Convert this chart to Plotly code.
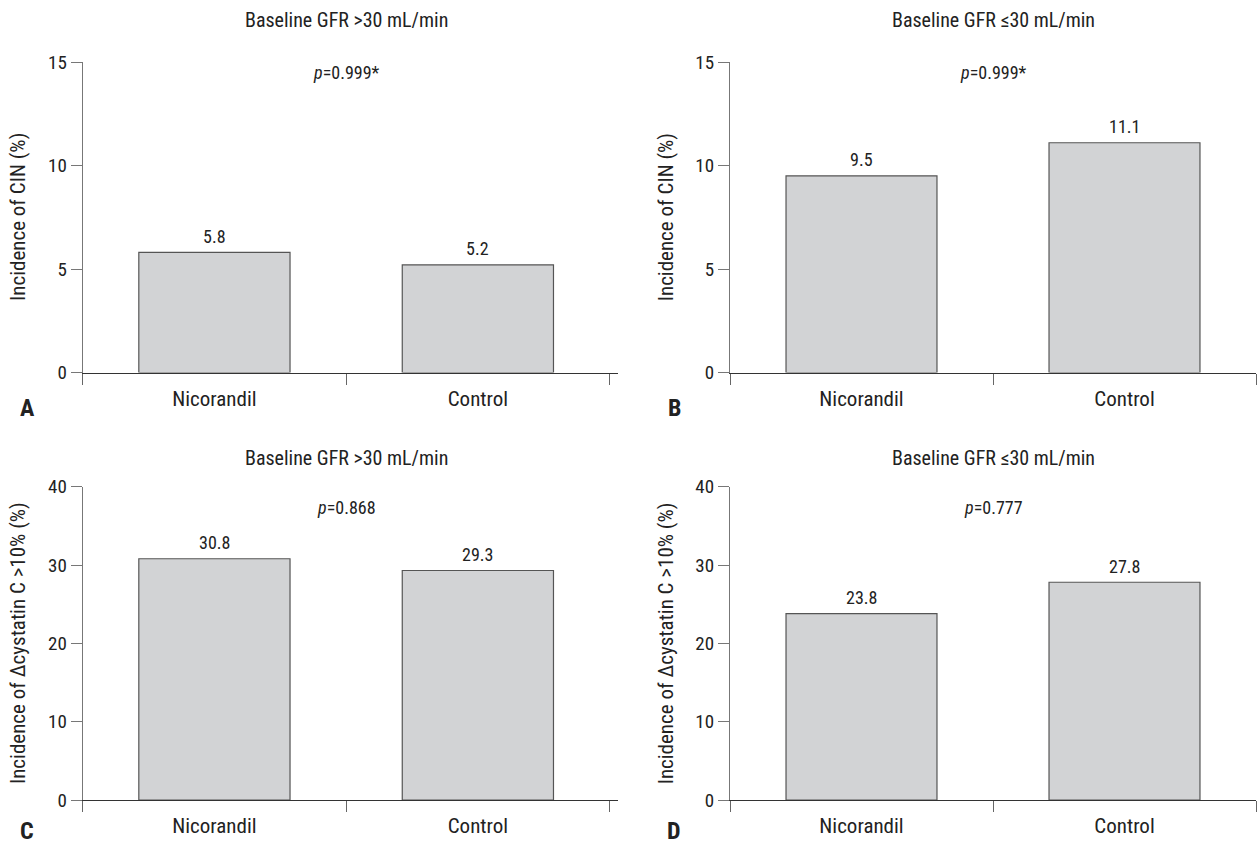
import plotly.graph_objects as go

categories = ["Nicorandil", "Control"]
panel_letters = ["A", "B", "C", "D"]
panel_titles = ["Baseline GFR >30 mL/min", "Baseline GFR ≤30 mL/min",
                "Baseline GFR >30 mL/min", "Baseline GFR ≤30 mL/min"]
values_A = [5.8, 5.2]
values_B = [9.5, 11.1]
values_C = [30.8, 29.3]
values_D = [23.8, 27.8]
p_values = ["0.999*", "0.999*", "0.868", "0.777"]
y_titles = ["Incidence of CIN (%)", "Incidence of CIN (%)",
            "Incidence of Δcystatin C >10% (%)", "Incidence of Δcystatin C >10% (%)"]
y_max = [15, 15, 40, 40]
y_dtick = [5, 5, 10, 10]

series = [values_A, values_B, values_C, values_D]

FONT = "Roboto Condensed, Liberation Sans Narrow, Arial Narrow, Roboto, Arial, sans-serif"
W, H = 1260, 846
BAR = "#d2d3d5"
EDGE = "#555555"
TXT = "#222222"

# pixel geometry of the four plot areas (left, right, top, bottom)
boxes = [(82.7, 617.5, 62, 372.5), (730, 1256, 62, 372.5),
         (82.7, 617.5, 486.7, 800), (730, 1256, 486.7, 800)]
x_ranges = [[-0.5, 1.53], [-0.5, 1.5], [-0.5, 1.53], [-0.5, 1.5]]
title_y = [20, 20, 458, 458]
p_y = [14.5, 14.5, 37.3, 37.3]
letter_y = [408, 408, 831, 831]

fig = go.Figure()
annotations = []
for i in range(4):
    n = "" if i == 0 else str(i + 1)
    l, r, t, b = boxes[i]
    fig.add_trace(go.Bar(
        x=categories, y=series[i], width=0.574,
        marker=dict(color=BAR, line=dict(color=EDGE, width=1.2)),
        xaxis="x" + n, yaxis="y" + n, showlegend=False, hoverinfo="x+y"))
    fig.update_layout(**{
        "xaxis" + n: dict(
            domain=[l / W, r / W], anchor="y" + n, type="category",
            range=x_ranges[i], showline=True, linecolor="#333333", linewidth=1.2,
            ticks="outside", tickson="boundaries", ticklen=11, tickcolor="#666666",
            tickwidth=1.2, showgrid=False, zeroline=False, automargin=False,
            ticklabelstandoff=7,
            tickfont=dict(family=FONT, size=21, color=TXT)),
        "yaxis" + n: dict(
            domain=[1 - b / H, 1 - t / H], anchor="x" + n,
            range=[0, y_max[i]], dtick=y_dtick[i], showline=True,
            linecolor="#777777", linewidth=1.2, ticks="outside", ticklen=11,
            tickcolor="#777777", tickwidth=1.2, showgrid=False, zeroline=False,
            automargin=False,
            tickfont=dict(family=FONT, size=19, color=TXT)),
    })
    # panel title
    annotations.append(dict(
        text=panel_titles[i], xref="x" + n, x=0.5, yref="paper", y=1 - title_y[i] / H,
        showarrow=False, xanchor="center", yanchor="middle",
        font=dict(family=FONT, size=20, color=TXT)))
    # p value
    annotations.append(dict(
        text="<i>p</i>=" + p_values[i], xref="x" + n, x=0.5, yref="y" + n, y=p_y[i],
        showarrow=False, xanchor="center", yanchor="middle",
        font=dict(family=FONT, size=18, color=TXT)))
    # value labels
    for j, v in enumerate(series[i]):
        annotations.append(dict(
            text=f"{v:.1f}", xref="x" + n, x=categories[j], yref="y" + n, y=v,
            yshift=16, showarrow=False, xanchor="center", yanchor="middle",
            font=dict(family=FONT, size=18, color=TXT)))
    # y-axis title
    annotations.append(dict(
        text=y_titles[i], xref="paper", x=(l - 64) / W, yref="paper",
        y=1 - (t + b) / 2 / H, textangle=-90, showarrow=False,
        xanchor="center", yanchor="middle",
        font=dict(family=FONT, size=21, color=TXT)))
    # panel letter
    annotations.append(dict(
        text="<b>" + panel_letters[i] + "</b>", xref="paper", x=(l - 55.7) / W,
        yref="paper", y=1 - letter_y[i] / H, showarrow=False,
        xanchor="center", yanchor="middle",
        font=dict(family=FONT, size=24, color=TXT)))

fig.update_layout(
    width=W, height=H, margin=dict(l=0, r=0, t=0, b=0, autoexpand=False),
    paper_bgcolor="white", plot_bgcolor="white",
    annotations=annotations, bargap=0.4)

fig.write_html("out.html", config={"displayModeBar": False},
               post_script="document.body.style.margin='0';")
